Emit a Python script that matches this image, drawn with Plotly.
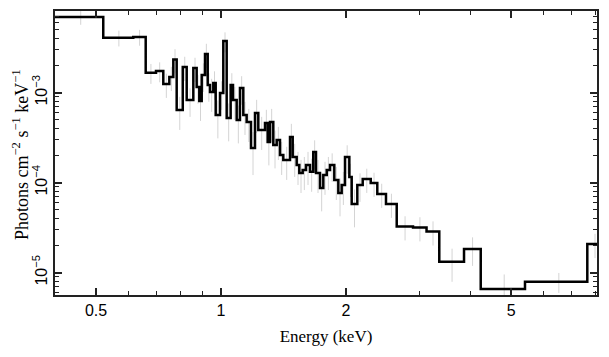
import math
import plotly.graph_objects as go

# Bin edges (keV)
edges = [0.398, 0.5203, 0.6146, 0.6585, 0.6972, 0.726, 0.7507, 0.7675, 0.782, 0.8088,
         0.8267, 0.8576, 0.8737, 0.8865, 0.8985, 0.9151, 0.9289, 0.9408, 0.9581, 0.9710,
         0.9945, 1.0128, 1.032, 1.055, 1.0688, 1.0909, 1.111, 1.1317, 1.153, 1.181,
         1.2075, 1.2299, 1.2765, 1.2958, 1.3126, 1.3366, 1.3621, 1.3873, 1.4129, 1.4665,
         1.4886, 1.5219, 1.544, 1.5733, 1.6023, 1.6385, 1.6686, 1.694, 1.732, 1.764,
         1.798, 1.8309, 1.875, 1.9173, 1.9534, 1.9897, 2.038, 2.065, 2.1303, 2.1951,
         2.295, 2.380, 2.4977, 2.651, 2.902, 3.128, 3.357, 3.851, 4.225, 5.401,
         7.632, 8.3]

# Flux per bin (photons cm^-2 s^-1 keV^-1)
flux = [6.93e-3, 4.08e-3, 4.16e-3, 1.67e-3, 1.74e-3, 1.25e-3, 1.49e-3, 2.34e-3, 6.43e-4, 1.93e-3,
        8.29e-4, 1.88e-3, 1.16e-3, 8.09e-4, 1.57e-3, 2.69e-3, 1.22e-3, 1.02e-3, 1.28e-3, 5.65e-4,
        9.93e-4, 3.75e-3, 5.24e-4, 1.22e-3, 8.29e-4, 4.97e-4, 1.13e-3, 5.65e-4, 4.72e-4, 2.43e-4,
        5.95e-4, 3.85e-4, 4.61e-4, 2.83e-4, 4.72e-4, 2.62e-4, 2.98e-4, 2.03e-4, 1.79e-4, 3.22e-4,
        1.93e-4, 1.57e-4, 1.28e-4, 1.38e-4, 1.57e-4, 1.32e-4, 2.19e-4, 1.28e-4, 8.73e-5, 1.22e-4,
        1.38e-4, 1.57e-4, 1.07e-4, 7.69e-5, 9.42e-5, 1.93e-4, 1.16e-4, 5.80e-5, 9.42e-5, 1.10e-4,
        9.93e-5, 7.49e-5, 5.80e-5, 3.26e-5, 3.18e-5, 2.86e-5, 1.32e-5, 1.83e-5, 6.59e-6, 7.94e-6,
        2.08e-5]

# Fractional 1-sigma errors per bin
err_frac = [0.18, 0.20, 0.20, 0.25, 0.25, 0.30, 0.30, 0.30, 0.40, 0.30,
            0.35, 0.30, 0.35, 0.40, 0.35, 0.30, 0.35, 0.40, 0.35, 0.45,
            0.35, 0.25, 0.45, 0.35, 0.40, 0.45, 0.35, 0.40, 0.40, 0.50,
            0.40, 0.40, 0.40, 0.45, 0.40, 0.45, 0.40, 0.40, 0.40, 0.40,
            0.40, 0.40, 0.40, 0.40, 0.40, 0.40, 0.35, 0.40, 0.45, 0.40,
            0.40, 0.35, 0.40, 0.45, 0.40, 0.35, 0.40, 0.45, 0.35, 0.30,
            0.30, 0.30, 0.30, 0.30, 0.30, 0.30, 0.40, 0.35, 0.45, 0.25,
            0.30]

x_ticks = [0.5, 1, 2, 5]
x_ticktext = ["0.5", "1", "2", "5"]
x_minor = [0.4, 0.6, 0.7, 0.8, 0.9, 3, 4, 6, 7, 8]
y_ticks = [1e-5, 1e-4, 1e-3]
y_ticktext = ["10<sup>−5</sup>", "10<sup>−4</sup>", "10<sup>−3</sup>"]
y_minor = [m * 10.0 ** e for e in (-6, -5, -4, -3) for m in range(2, 10)]

centers = [0.5 * (edges[i] + edges[i + 1]) for i in range(len(flux))]
err = [f * e for f, e in zip(flux, err_frac)]

fig = go.Figure()
fig.add_trace(go.Scatter(
    x=centers, y=flux, mode="markers",
    marker=dict(size=1, color="rgba(0,0,0,0)"),
    error_y=dict(type="data", array=err, symmetric=True, color="#d4d4d4",
                 thickness=1, width=0),
    hoverinfo="skip", showlegend=False))
fig.add_trace(go.Scatter(
    x=edges, y=flux + [flux[-1]], mode="lines",
    line=dict(shape="hv", color="black", width=2.5),
    showlegend=False))

tick_font = dict(family="Liberation Sans, Arial, sans-serif", size=16, color="black")
title_font = dict(family="Liberation Serif, Times New Roman, serif", size=17, color="black")

# page body has an 8px margin; figure sized so the plot lands where the reference has it
fig.update_layout(
    width=601, height=349, autosize=False,
    margin=dict(l=47, r=12, t=3, b=62),
    paper_bgcolor="white", plot_bgcolor="white",
    xaxis=dict(
        type="log", range=[-0.4, 0.906], automargin=False,
        tickvals=x_ticks, ticktext=x_ticktext,
        ticks="inside", ticklen=7, tickwidth=1.5, tickcolor="#222",
        showline=True, linecolor="#222", linewidth=1.5, mirror="ticks",
        showgrid=False, zeroline=False,
        tickfont=tick_font,
        minor=dict(tickvals=x_minor, ticks="inside", ticklen=4, tickwidth=1.2,
                   tickcolor="#222", showgrid=False),
        title=dict(text="Energy (keV)", font=title_font, standoff=12),
    ),
    yaxis=dict(
        type="log", range=[-5.248, -2.092], automargin=False,
        tickvals=y_ticks, ticktext=y_ticktext, tickangle=-90,
        ticks="inside", ticklen=7, tickwidth=1.5, tickcolor="#222",
        showline=True, linecolor="#222", linewidth=1.5, mirror="ticks",
        showgrid=False, zeroline=False,
        tickfont=tick_font,
        minor=dict(tickvals=y_minor, ticks="inside", ticklen=4, tickwidth=1.2,
                   tickcolor="#222", showgrid=False),
    ),
    annotations=[dict(
        text="Photons cm<sup>−2</sup> s<sup>−1</sup> keV<sup>−1</sup>",
        textangle=-90, font=dict(family="Liberation Serif, Times New Roman, serif",
                                 size=18, color="black"),
        xref="paper", yref="paper", x=(20 - 55) / 542, y=1 - (155 - 11) / 284,
        xanchor="center", yanchor="middle", showarrow=False)],
)

fig.write_html("out.html")
